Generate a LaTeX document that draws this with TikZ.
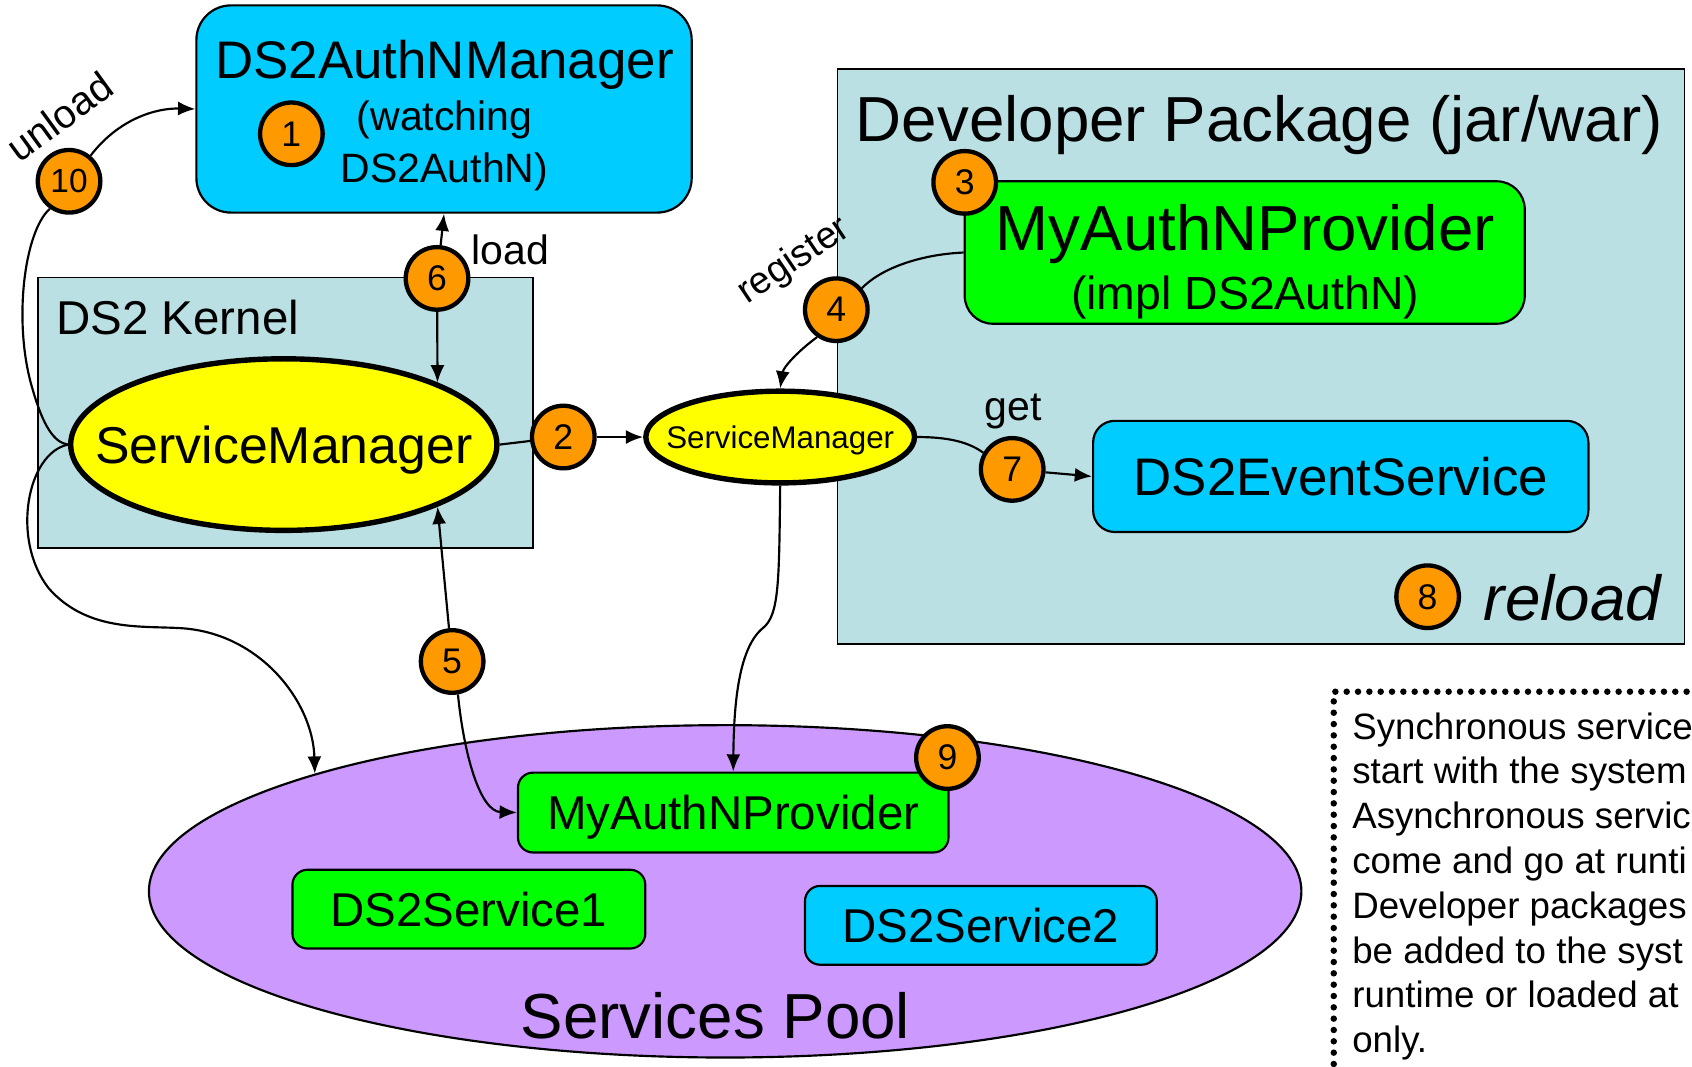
\documentclass[tikz,border=0pt]{standalone}
\usepackage{fontspec}
\setmainfont{Liberation Sans}
\usetikzlibrary{shapes.geometric,arrows.meta,positioning}
\newcommand{\pxfont}[1]{\fontsize{#1}{#1}\selectfont}
\definecolor{svccyan}{HTML}{00CCFF}
\definecolor{provgreen}{HTML}{00FF00}
\definecolor{pkgblue}{HTML}{BAE0E4}
\definecolor{mgryellow}{HTML}{FFFF00}
\definecolor{steporange}{HTML}{FF9900}
\definecolor{poolviolet}{HTML}{CC99FF}

\begin{document}
\begin{tikzpicture}
  [
    x=1pt, y=-1pt,
    container/.style={draw, rectangle, fill=pkgblue, line width=1.5pt, inner sep=0pt},
    service/.style={draw, rectangle, rounded corners=14pt, line width=2pt, inner sep=0pt, text depth=0pt, font=\pxfont{44}},
    manager/.style={draw, ellipse, fill=mgryellow, line width=5pt, inner sep=0pt},
    mgrtext/.style={inner sep=0pt, text depth=0pt},
    stepnum/.style={draw, circle, fill=steporange, line width=4pt, minimum size=58pt, inner sep=0pt, text depth=0pt, font=\pxfont{33}},
    caption/.style={inner sep=0pt, anchor=base},
    flow/.style={-{Latex[length=16pt,width=13pt]}, line width=2pt},
    link/.style={-, line width=2pt},
%     notebox/.style={draw, dotted}
  ]
  \path [use as bounding box, clip] (0,0) rectangle (1568,988);

  \node (kernel) [container, minimum width=459pt, minimum height=251pt] at (264.5,382.5) {};
  \node (devpkg) [container, minimum width=785pt, minimum height=533pt] at (1168.5,330.5) {};
  \node (authmgr) [service, fill=svccyan, rounded corners=32pt, minimum width=459pt, minimum height=192pt] at (411.5,101) {};
  \node (pool) [draw, ellipse, fill=poolviolet, line width=2pt, minimum width=1068pt, minimum height=308pt] at (672,826) {};
  \node (authprov) [service, fill=provgreen, rounded corners=26pt, minimum width=519pt, minimum height=132pt] at (1153.5,234) {};
  \node (evtsvc) [service, fill=svccyan, rounded corners=20pt, minimum width=459pt, minimum height=103pt, font=\pxfont{49}] at (1242.5,441.5) {DS2EventService};
  \node (poolprov) [service, fill=provgreen, minimum width=399pt, minimum height=74pt] at (679.5,753) {MyAuthNProvider};
  \node (svcone) [service, fill=provgreen, minimum width=327pt, minimum height=73pt] at (434.5,842.5) {DS2Service1};
  \node (svctwo) [service, fill=svccyan, minimum width=326pt, minimum height=73pt] at (909,857.5) {DS2Service2};
  \node (bigsm) [manager, minimum width=395pt, minimum height=159pt] at (263,412) {};
  \node (bigsmtext) [mgrtext, font=\pxfont{48}] at (bigsm) {ServiceManager};
  \node (smallsm) [manager, minimum width=249pt, minimum height=85pt] at (723,405) {};
  \node (smallsmtext) [mgrtext, font=\pxfont{29}] at (smallsm) {ServiceManager};

  \node (authtitle) [caption, font=\pxfont{49}] at (412,73) {DS2AuthNManager};
  \node (watchone) [caption, font=\pxfont{38}] at (412,121) {(watching};
  \node (watchtwo) [caption, font=\pxfont{38}] at (412,169) {DS2AuthN)};
  \node (pkgtitle) [caption, anchor=base west, font=\pxfont{59}] at (793,131) {Developer Package (jar/war)};
  \node (provtitle) [caption, font=\pxfont{59}] at (1154,232) {MyAuthNProvider};
  \node (provsub) [caption, font=\pxfont{43}] at (1154,287) {(impl DS2AuthN)};
  \node (kerneltitle) [caption, anchor=base west, font=\pxfont{44}] at (52,310) {DS2 Kernel};
  \node (pooltitle) [caption, font=\pxfont{59}] at (663,962) {Services Pool};
  \node (reload) [caption, anchor=base west, font=\pxfont{59}\itshape] at (1375,575) {reload};
  \node (loadlbl) [caption, anchor=base west, font=\pxfont{38}] at (437,245) {load};
  \node (getlbl) [caption, font=\pxfont{38}] at (939,390) {get};
  \node (unloadlbl) [inner sep=0pt, rotate=36, font=\pxfont{37}] at (55,108) {unload};
  \node (registerlbl) [inner sep=0pt, rotate=34, font=\pxfont{35}] at (736,242) {register};

  \node (c1) [stepnum] at (270,124) {1};
  \node (c2) [stepnum] at (522,405) {2};
  \node (c3) [stepnum] at (894,169) {3};
  \node (c4) [stepnum] at (775,287) {4};
  \node (c5) [stepnum] at (419,613) {5};
  \node (c6) [stepnum] at (405,258) {6};
  \node (c7) [stepnum] at (938,435) {7};
  \node (c8) [stepnum] at (1323,553) {8};
  \node (c9) [stepnum] at (878,702) {9};
  \node (c10) [stepnum, font=\pxfont{31}] at (64,168) {10};

  \draw [flow] (c10.50) .. controls (110,110) and (145,100) .. (authmgr.west);
  \draw [link] (c10.235) .. controls (22,215) and (12,300) .. (30,360) .. controls (40,395) and (50,410) .. (bigsm.west);
  \draw [flow] (bigsm.west) .. controls (25,420) and (10,500) .. (45,545) .. controls (80,585) and (130,580) .. (165,582) .. controls (240,585) and (290,650) .. (pool.164);
  \draw [flow] (c6) -- (authmgr.south);
  \draw [flow] (c6) -- (bigsm.22);
  \draw [flow] (c5) -- (bigsm.-22);
  \draw [flow] (c5.-80) .. controls (430,700) and (445,752) .. (poolprov.west);
  \draw [link] (bigsm.east) -- (c2);
  \draw [flow] (c2) -- (smallsm.west);
  \draw [link] (authprov.west) .. controls (850,236) and (815,250) .. (c4.40);
  \draw [flow] (c4.235) .. controls (740,325) and (726,340) .. (smallsm.north);
  \draw [link] (smallsm.east) .. controls (880,405) and (898,410) .. (c7.150);
  \draw [flow] (c7) -- (evtsvc.west);
  \draw [flow] (smallsm.south) .. controls (722,540) and (722,570) .. (707,582) .. controls (685,600) and (680,650) .. (poolprov.north);

  \node (note) [draw, rectangle, line width=6pt, dash pattern=on 0pt off 10.5pt, line cap=round, minimum width=384pt, minimum height=378pt] at (1428,830) {};
  \foreach \notetext [count=\i] in {Synchronous service, start with the system, Asynchronous servic, come and go at runti, Developer packages, be added to the syst, runtime or loaded at, only.}
    \node (note\i) [caption, anchor=base west, font=\pxfont{34}] at (1253,{685+41.5*(\i-1)}) {\notetext};
\end{tikzpicture}
\end{document}
